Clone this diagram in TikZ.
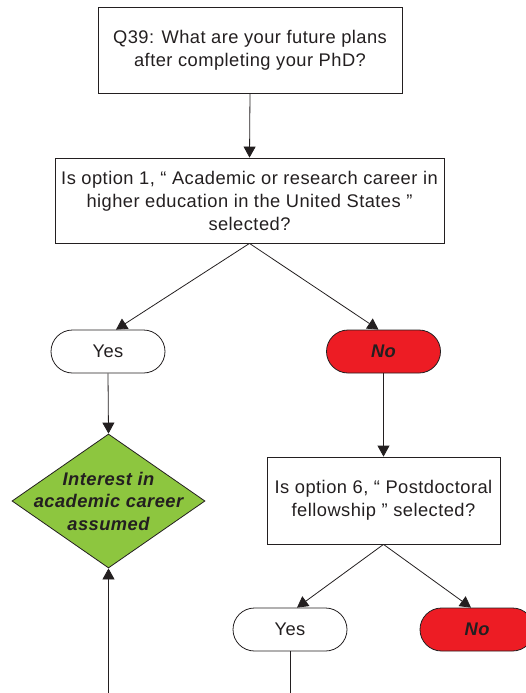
\documentclass[tikz,border=0pt]{standalone}
\usepackage{fontspec}
\setmainfont{Liberation Sans}[LetterSpace=2.5]
\usetikzlibrary{shapes.geometric,arrows.meta}
\definecolor{ink}{HTML}{231F20}
\definecolor{redfill}{HTML}{ED1C24}
\definecolor{greenfill}{HTML}{8DC63F}
\begin{document}
\begin{tikzpicture}[x=1pt,y=-1pt,
  every node/.style={text=ink},
  base/.style={draw=ink,line width=0.8pt,align=center,inner sep=0pt,
    font=\fontsize{18.3}{23}\selectfont},
  qbox/.style={base,rectangle},
  pill/.style={base,rectangle,rounded corners=21.5pt,minimum width=114pt,minimum height=43pt},
  nopill/.style={pill,fill=redfill,font=\fontsize{18.3}{23}\selectfont\bfseries\itshape},
  diam/.style={draw=ink,line width=0.8pt,diamond,fill=greenfill,inner sep=0pt,minimum width=193pt,minimum height=134pt},
  diamtext/.style={align=center,inner sep=0pt,font=\fontsize{18.3}{22.5}\selectfont\bfseries\itshape},
  conn/.style={draw=ink,line width=0.8pt,-{Triangle[length=11pt,width=12pt]}},
  plain/.style={draw=ink,line width=0.8pt}]
\useasboundingbox (0,0) rectangle (525,693);

\node[qbox,minimum width=304pt,minimum height=86pt] (q39) at (250,50)
  {Q39: What are your future plans\\after completing your PhD?};
\node[qbox,minimum width=389pt,minimum height=85pt] (q1) at (249.5,200.5)
  {Is option 1, “ Academic or research career in\\higher education in the United States ”\\selected?};
\node[pill] (yes1) at (108,351.5) {Yes};
\node[nopill] (no1) at (383.5,351.5) {No};
\node[diam] (dia) at (108.5,501) {};
\node[diamtext] (diatext) at (dia.center) {Interest in\\academic career\\assumed};
\node[qbox,minimum width=233pt,minimum height=87pt] (q2) at (383.5,500.5)
  {Is option 6, “ Postdoctoral\\fellowship ” selected?};
\node[pill] (yes2) at (290,629.5) {Yes};
\node[nopill] (no2) at (477,629.5) {No};
\coordinate (bl) at (108.5,700);
\coordinate (br) at (290,700);

\draw[conn] (q39.south) -- (q1.north);
\draw[conn] (q1.south) -- ([xshift=8pt]yes1.north);
\draw[conn] (q1.south) -- ([xshift=-5pt]no1.north);
\draw[conn] (yes1.south) -- (dia.north);
\draw[conn] (bl) -- (dia.south);
\draw[conn] (no1.south) -- (q2.north);
\draw[conn] (q2.south) -- ([xshift=7pt]yes2.north);
\draw[conn] (q2.south) -- ([xshift=-6pt]no2.north);
\draw[plain] (yes2.south) -- (br);
\end{tikzpicture}
\end{document}
